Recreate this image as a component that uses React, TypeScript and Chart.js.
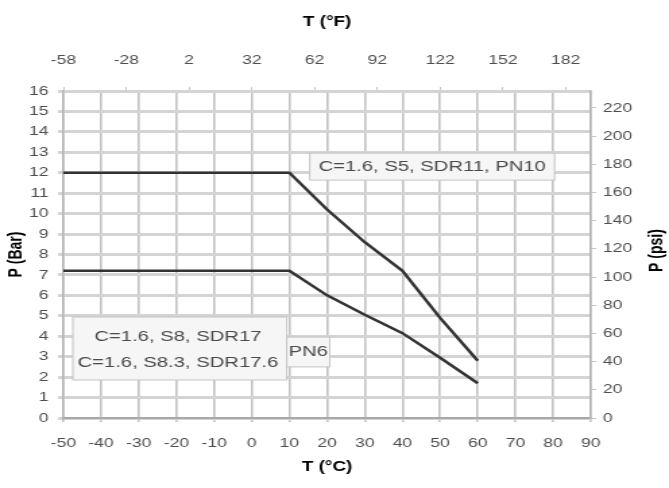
import React, { useEffect, useRef } from "react";
import { Chart, registerables } from "chart.js";

Chart.register(...registerables);

// ---- data ----
const tempC = [-50, 10, 20, 30, 40, 50, 60];
const pn10Bar = [12, 12, 10.2, 8.6, 7.2, 4.9, 2.8];
const pn6Bar = [7.2, 7.2, 6.0, 5.05, 4.15, 2.95, 1.7];
const fahrenheitTicks = [-58, -28, 2, 32, 62, 92, 122, 152, 182];
const psiTicks = [0, 20, 40, 60, 80, 100, 120, 140, 160, 180, 200, 220];
const pn10Label = "C=1.6, S5, SDR11, PN10";
const pn6Labels = ["C=1.6, S8, SDR17", "C=1.6, S8.3, SDR17.6"];
const pn6Tag = "PN6";

const SX = 1.35; // horizontal stretch of the original raster
const W_REAL = 669;
const H = 488;
const W = Math.round(W_REAL / SX);

const FONT = "'Liberation Sans', Arial, sans-serif";

const overlayPlugin = {
  id: "overlay",
  afterDatasetsDraw(chart: any) {
    const ctx = chart.ctx;
    const xs = chart.scales.x;
    const ys = chart.scales.y;
    const px = (t: number) => xs.getPixelForValue(t);
    const py = (p: number) => ys.getPixelForValue(p);
    const box = (t0: number, t1: number, p0: number, p1: number) => {
      const x0 = px(t0), x1 = px(t1), y0 = py(p0), y1 = py(p1);
      ctx.fillStyle = "#f6f6f6";
      ctx.fillRect(x0, y0, x1 - x0, y1 - y0);
      ctx.strokeStyle = "#c4c4c4";
      ctx.lineWidth = 1;
      ctx.strokeRect(x0, y0, x1 - x0, y1 - y0);
    };
    ctx.save();
    ctx.font = `15px ${FONT}`;
    ctx.textAlign = "center";
    ctx.textBaseline = "middle";
    // PN10 label
    box(15.4, 80.4, 12.96, 11.64);
    ctx.fillStyle = "#4a4a4a";
    ctx.fillText(pn10Label, px(47.9), py(12.3));
    // PN6 labels
    box(-47.5, 9.3, 4.94, 1.86);
    ctx.fillStyle = "#4a4a4a";
    ctx.fillText(pn6Labels[0], px(-19.6), py(3.96));
    ctx.fillText(pn6Labels[1], px(-19.6), py(2.69));
    box(9.3, 20.7, 3.96, 2.5);
    ctx.fillStyle = "#4a4a4a";
    ctx.fillText(pn6Tag, px(15), py(3.23));
    // right axis title
    const area = chart.chartArea;
    ctx.font = `bold 14px ${FONT}`;
    ctx.fillStyle = "#000";
    ctx.translate(657 / SX, (area.top + area.bottom) / 2 - 4);
    ctx.rotate(-Math.PI / 2);
    ctx.fillText("P (psi)", 0, 0);
    ctx.restore();
  },
};

export default function App() {
  const ref = useRef<HTMLCanvasElement | null>(null);

  useEffect(() => {
    document.body.style.margin = "0";
    if (!ref.current) return;
    const tickFont = { family: FONT, size: 13 };
    const titleFont = { family: FONT, size: 14, weight: "bold" as const };
    const tickColor = "#4e4e4e";
    const chart = new Chart(ref.current, {
      type: "line",
      data: {
        datasets: [
          {
            label: "PN10",
            data: tempC.map((t, i) => ({ x: t, y: pn10Bar[i] })),
            borderColor: "#333333",
            borderWidth: 2.5,
            pointRadius: 0,
            tension: 0,
            xAxisID: "x",
            yAxisID: "y",
          },
          {
            label: "PN6",
            data: tempC.map((t, i) => ({ x: t, y: pn6Bar[i] })),
            borderColor: "#333333",
            borderWidth: 2.5,
            pointRadius: 0,
            tension: 0,
            xAxisID: "x",
            yAxisID: "y",
          },
        ],
      },
      options: {
        responsive: false,
        animation: false,
        devicePixelRatio: 1,
        layout: { padding: 0 },
        plugins: {
          legend: { display: false },
          title: { display: false },
          tooltip: { enabled: false },
        },
        scales: {
          x: {
            type: "linear",
            position: "bottom",
            min: -50,
            max: 90,
            ticks: { stepSize: 10, font: tickFont, color: tickColor, padding: 14, maxRotation: 0 },
            grid: { color: "#c2c2c2", lineWidth: 1.6, tickLength: 4 },
            border: { color: "#a8a8a8", width: 2 },
            title: { display: true, text: "T (°C)", font: titleFont, color: "#000", padding: { top: 0, bottom: 12 } },
            afterFit: (axis: any) => { axis.height = 70; },
          },
          xf: {
            type: "linear",
            position: "top",
            min: -58,
            max: 194,
            afterBuildTicks: (axis: any) => { axis.ticks = fahrenheitTicks.map((v) => ({ value: v })); },
            ticks: { font: tickFont, color: tickColor, padding: 19, maxRotation: 0, autoSkip: false },
            grid: { drawOnChartArea: false, color: "#c6c6c6", tickLength: 4 },
            border: { display: false },
            title: { display: true, text: "T (°F)", font: titleFont, color: "#000", padding: { top: 14, bottom: 0 } },
            afterFit: (axis: any) => { axis.height = 91; },
          },
          y: {
            type: "linear",
            position: "left",
            min: 0,
            max: 16,
            ticks: { stepSize: 1, font: tickFont, color: tickColor, padding: 7 },
            grid: { color: "#d4d4d4", lineWidth: 3, tickLength: 4 },
            border: { color: "#b4b4b4", width: 1.5 },
            title: { display: true, text: "P (Bar)", font: titleFont, color: "#000", padding: { top: 4, bottom: 0 } },
            afterFit: (axis: any) => { axis.width = 47; },
          },
          yp: {
            type: "linear",
            position: "right",
            min: 0,
            max: 16 * 14.5038,
            afterBuildTicks: (axis: any) => { axis.ticks = psiTicks.map((v) => ({ value: v })); },
            ticks: { font: tickFont, color: tickColor, padding: 5, autoSkip: false },
            grid: { drawOnChartArea: false, color: "#c6c6c6", tickLength: 4 },
            border: { color: "#b4b4b4", width: 1.5 },
            afterFit: (axis: any) => { axis.width = W - 438; },
          },
        },
      },
      plugins: [overlayPlugin],
    } as any);
    return () => chart.destroy();
  }, []);

  return (
    <div style={{ width: W_REAL, height: H, overflow: "hidden", background: "#fff" }}>
      <canvas ref={ref} width={W} height={H} style={{ width: W_REAL, height: H, display: "block" }} />
    </div>
  );
}
